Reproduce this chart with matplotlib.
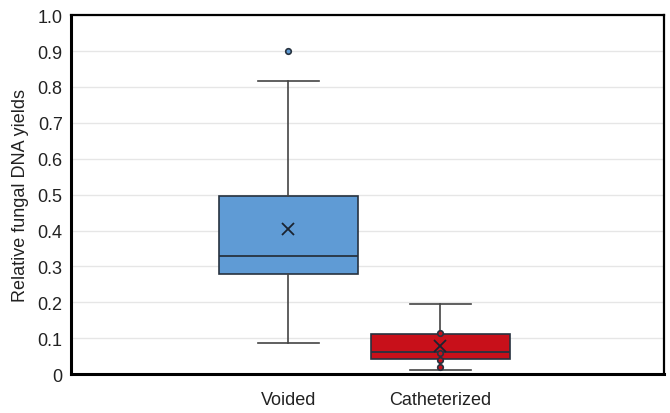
import matplotlib.pyplot as plt

plt.rcParams['font.family'] = ['Liberation Sans', 'DejaVu Sans']

# data
groups = ['Voided', 'Catheterized']
q1 = [0.280, 0.042]
med = [0.329, 0.062]
q3 = [0.496, 0.113]
whislo = [0.086, 0.011]
whishi = [0.816, 0.195]
means = [0.404, 0.078]
outliers = [[0.900], [0.114, 0.058, 0.039, 0.020]]
colors = ['#5f9bd5', '#c8101a']
yticks = [0, 0.1, 0.2, 0.3, 0.4, 0.5, 0.6, 0.7, 0.8, 0.9, 1.0]
ytick_labels = ['0', '0.1', '0.2', '0.3', '0.4', '0.5', '0.6', '0.7', '0.8', '0.9', '1.0']

fig = plt.figure(figsize=(6.7, 4.14), dpi=100)
ax = fig.add_axes([0.106, 0.094, 0.885, 0.867])

stats = []
for i in range(len(groups)):
    stats.append(dict(label=groups[i], q1=q1[i], med=med[i], q3=q3[i],
                      whislo=whislo[i], whishi=whishi[i], mean=means[i], fliers=[]))

edge = '#27323f'
bp = ax.bxp(stats, positions=[1, 2], widths=0.91, patch_artist=True, showmeans=True,
            showfliers=False,
            boxprops=dict(edgecolor=edge, linewidth=1.2),
            medianprops=dict(color=edge, linewidth=1.3),
            whiskerprops=dict(color='#444444', linewidth=1.2),
            capprops=dict(color='#444444', linewidth=1.2),
            meanprops=dict(marker='x', markeredgecolor='#1a2330', markersize=8, markeredgewidth=1.3),
            capwidths=0.4)
for patch, c in zip(bp['boxes'], colors):
    patch.set_facecolor(c)

for i, pts in enumerate(outliers):
    ax.plot([i + 1] * len(pts), pts, 'o', markersize=4, markerfacecolor=colors[i],
            markeredgecolor=edge, markeredgewidth=1.2, zorder=4)

ax.set_xlim(-0.43, 3.47)
ax.set_ylim(0, 1.0)
ax.set_yticks(yticks)
ax.set_yticklabels(ytick_labels)
ax.set_xticks([1, 2])
ax.set_xticklabels(groups)
ax.tick_params(length=0, labelsize=13, colors='#222222', pad=6)
ax.tick_params(axis='x', pad=12)
ax.yaxis.grid(True, color='#e6e6e6', linewidth=1)
ax.set_axisbelow(True)
ax.set_ylabel('Relative fungal DNA yields', fontsize=13, color='#222222', labelpad=6)

for side in ['left', 'bottom']:
    ax.spines[side].set_linewidth(2.2)
for side in ['top', 'right']:
    ax.spines[side].set_linewidth(1.6)

fig.savefig('out.png', dpi=100)
